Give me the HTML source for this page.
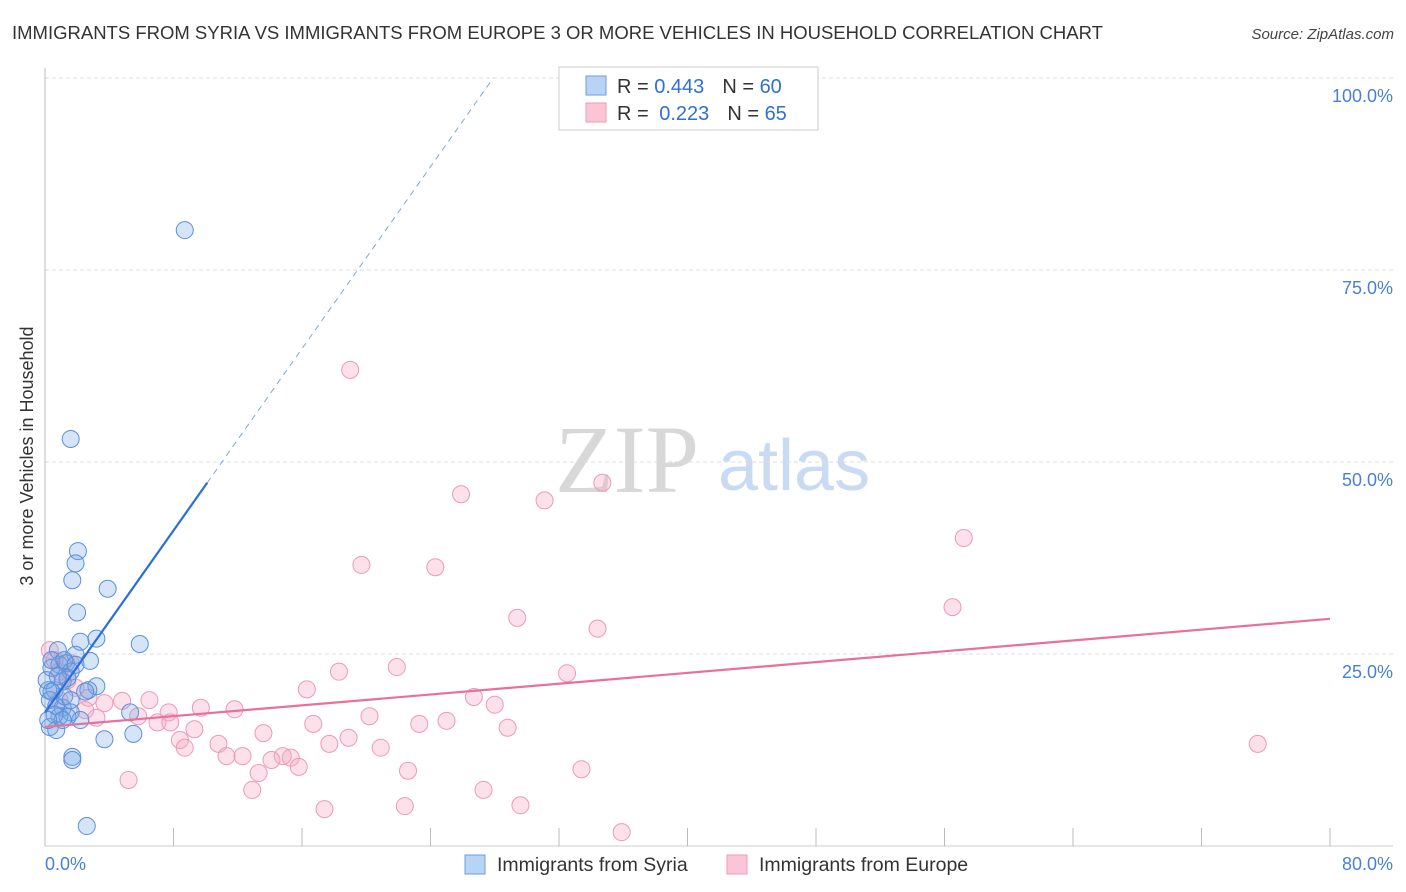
<!DOCTYPE html>
<html><head><meta charset="utf-8">
<style>
body{margin:0;background:#fff;font-family:"Liberation Sans",sans-serif;}
svg{display:block}
</style></head>
<body>
<svg id="chart" width="1406" height="892" viewBox="0 0 1406 892" xmlns="http://www.w3.org/2000/svg">
<text x="12" y="39" font-size="18.5" fill="#333" font-family="Liberation Sans, sans-serif">IMMIGRANTS FROM SYRIA VS IMMIGRANTS FROM EUROPE 3 OR MORE VEHICLES IN HOUSEHOLD CORRELATION CHART</text>
<text x="1394" y="39" font-size="15" fill="#444" font-style="italic" text-anchor="end">Source: ZipAtlas.com</text>
<g>
<text x="555" y="492" font-size="96" font-family="Liberation Serif, serif" fill="#d8d8d8">ZIP</text>
<text x="718" y="490" font-size="72" fill="#c9dbf2">atlas</text>
</g>
<g id="grid"></g>
<g id="axes"></g>
<g id="pts"></g>
<g id="lines"></g>
<text transform="translate(33,456) rotate(-90)" font-size="18" fill="#333" text-anchor="middle">3 or more Vehicles in Household</text>
<g>
<rect x="559" y="67" width="259" height="63" fill="#fff" stroke="#ccc"/>
<rect x="586" y="76" width="20" height="19" fill="#b9d3f5" stroke="#6a9ce0"/>
<rect x="586" y="103" width="20" height="19" fill="#fac6d6" stroke="#ec9ab6"/>
<text x="617" y="93" font-size="20" fill="#333">R = <tspan fill="#2f6fd6">0.443</tspan><tspan dx="18">N = </tspan><tspan fill="#2f6fd6">60</tspan></text>
<text x="617" y="120" font-size="20" fill="#333">R = <tspan fill="#2f6fd6" dx="5">0.223</tspan><tspan dx="18">N = </tspan><tspan fill="#2f6fd6">65</tspan></text>
</g>
<g>
<rect x="465" y="855" width="20" height="19" fill="#b9d3f5" stroke="#6a9ce0"/>
<text x="497" y="871" font-size="19.5" fill="#333">Immigrants from Syria</text>
<rect x="727" y="855" width="20" height="19" fill="#fac6d6" stroke="#ec9ab6"/>
<text x="759" y="871" font-size="19.5" fill="#333">Immigrants from Europe</text>
</g>
</svg>
<script>
const syriaX=[8.7,1.6,2.05,1.9,1.7,3.9,2.0,3.2,5.9,2.2,2.8,1.9,0.8,0.9,0.4,1.3,1.6,0.6,0.2,3.2,2.7,1.1,1.4,0.3,0.7,1.1,1.6,2.2,0.9,5.3,3.7,5.5,1.7,1.7,2.6,0.3,0.7,1.4,0.1,0.4,1.2,1.9,0.8,1.2,1.6,0.6,1.1,0.4,0.2,2.5];
const syriaY=[80.2,53.0,38.4,36.8,34.6,33.5,30.4,27.0,26.3,26.6,24.1,24.9,25.5,23.6,23.2,23.8,22.7,20.3,20.3,20.8,20.3,21.4,21.9,19.0,18.2,18.0,17.4,16.4,16.9,17.4,13.9,14.6,11.6,11.2,2.6,15.5,15.1,16.8,21.6,24.2,24.2,23.6,22.1,19.5,19.0,17.1,16.4,20.1,16.4,20.1];
const europeX=[19.0,34.7,25.9,31.1,57.2,19.7,24.3,56.5,29.4,34.4,18.3,21.9,32.5,16.3,26.7,28.0,9.7,11.8,20.2,16.7,23.3,25.0,28.8,7.7,7.0,5.8,4.8,3.7,3.2,2.7,1.9,1.4,0.3,0.6,0.9,1.6,7.8,8.4,8.7,10.8,11.3,13.6,12.3,15.3,14.8,14.1,15.8,17.7,18.9,20.9,13.3,5.2,12.9,22.6,33.4,75.5,17.4,22.4,27.3,29.6,35.9,9.3,6.5,0.9,2.5];
const europeY=[62.0,47.3,45.8,45.0,40.1,36.6,36.3,31.1,29.7,28.3,22.7,23.3,22.5,20.4,19.4,18.4,18.0,17.8,16.9,15.9,15.9,16.3,15.4,17.4,16.1,16.9,18.9,18.6,16.7,19.3,20.6,21.6,25.5,24.2,22.7,23.8,16.1,13.8,12.8,13.3,11.7,14.7,11.7,11.5,11.7,11.2,10.3,13.3,14.1,12.8,9.5,8.6,7.3,9.8,10.0,13.3,4.8,5.2,7.3,5.3,1.8,15.2,19.0,19.0,17.7];
const syriaTrend=[17.4,2.96];   // intercept, slope
const europeTrend=[15.5,0.176];
const yTicks=[25,50,75,100];
const xTicks=[0,8,16,24,32,40,48,56,64,72,80];

const NS="http://www.w3.org/2000/svg";
const X=v=>45+v/80*1285;
const Y=v=>846-v/100*768;
function mk(tag,attrs,parent){const e=document.createElementNS(NS,tag);for(const k in attrs)e.setAttribute(k,attrs[k]);parent.appendChild(e);return e;}
const grid=document.getElementById('grid'),axes=document.getElementById('axes'),pts=document.getElementById('pts'),lines=document.getElementById('lines');
yTicks.forEach(t=>{
 const l=mk('line',{x1:45,x2:1393,y1:Y(t),y2:Y(t),stroke:'#ddd','stroke-dasharray':'4,3'},grid);
 
 
 const tx=mk('text',{x:1393,y:Y(t)+24,'font-size':18,fill:'#4a7fd6','text-anchor':'end'},axes);
 tx.textContent=t.toFixed(1)+'%';
 
 
});
mk('line',{x1:45,x2:45,y1:68,y2:846,stroke:'#bbb'},axes);
mk('line',{x1:45,x2:1393,y1:846,y2:846,stroke:'#ccc'},axes);
xTicks.forEach(t=>{ if(t>0){const l=mk('line',{x1:X(t),x2:X(t),y1:828,y2:846,stroke:'#bbb'},axes);
 
 }});
const x0=mk('text',{x:45,y:870,'font-size':18,fill:'#4a7fd6'},axes);x0.textContent=xTicks[0].toFixed(1)+'%';


const x1=mk('text',{x:1393,y:870,'font-size':18,fill:'#4a7fd6','text-anchor':'end'},axes);x1.textContent=xTicks[xTicks.length-1].toFixed(1)+'%';



europeX.forEach((v,i)=>{const c=mk('circle',{cx:X(v),cy:Y(europeY[i]),r:8.5,fill:'rgba(246,170,196,0.35)',stroke:'#ec9ab6','stroke-width':1},pts);
 
 });
syriaX.forEach((v,i)=>{const c=mk('circle',{cx:X(v),cy:Y(syriaY[i]),r:8.5,fill:'rgba(120,165,230,0.3)',stroke:'#5b8fdc','stroke-width':1},pts);
 
 });

const sEnd=10.1, sTop=(100-syriaTrend[0])/syriaTrend[1];
const sl=mk('line',{x1:X(0),y1:Y(syriaTrend[0]),x2:X(sEnd),y2:Y(syriaTrend[0]+syriaTrend[1]*sEnd),stroke:'#2a6fd8','stroke-width':2.2},lines);


const sd=mk('line',{x1:X(sEnd),y1:Y(syriaTrend[0]+syriaTrend[1]*sEnd),x2:X(sTop),y2:Y(100),stroke:'#7ea4e0','stroke-width':1,'stroke-dasharray':'6,5'},lines);


const el=mk('line',{x1:X(0),y1:Y(europeTrend[0]),x2:X(80),y2:Y(europeTrend[0]+europeTrend[1]*80),stroke:'#e8709a','stroke-width':2.2},lines);


</script>
</body></html>
